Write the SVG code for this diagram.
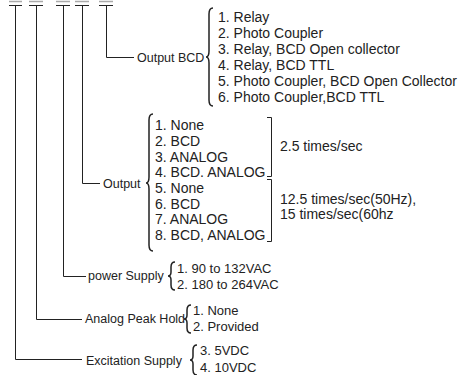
<svg xmlns="http://www.w3.org/2000/svg" width="469" height="375" viewBox="0 0 469 375">
<style>
text{font-family:"Liberation Sans",Arial,sans-serif;font-size:13px;fill:#222}
text.o{font-size:14px}
text.l{font-size:12.5px}
.ln{fill:none;stroke:#222;stroke-width:1}
.br{fill:none;stroke:#222;stroke-width:1.5}
.gb{stroke:#aaa;stroke-width:1.5}
</style>
<rect width="469" height="375" fill="#fff"/>
<g id="connectors">
<line class="gb" x1="9" y1="1.5" x2="22" y2="1.5"/>
<line class="gb" x1="29" y1="1.5" x2="43" y2="1.5"/>
<line class="gb" x1="56" y1="1.5" x2="70" y2="1.5"/>
<line class="gb" x1="75" y1="1.5" x2="89" y2="1.5"/>
<line class="gb" x1="99" y1="1.5" x2="113" y2="1.5"/>
<path class="ln" d="M9,5.5H22M15.5,5.5V359.5H82"/>
<path class="ln" d="M29,5.5H43M36.5,5.5V319.5H82"/>
<path class="ln" d="M56,5.5H70M63.5,5.5V276.5H86"/>
<path class="ln" d="M75,5.5H89M82.5,5.5V183.5H100"/>
<path class="ln" d="M99,5.5H113M106.5,5.5V57.5H134"/>
</g>
<g id="output-bcd">
<text class="l" x="137" y="62">Output BCD</text>
<path class="br" d="M213,8 Q209,8 209,14 L209,51 Q209,57 206,57 Q209,57 209,63 L209,100 Q209,106 213,106"/>
<text class="o" x="218" y="22">1. Relay</text>
<text class="o" x="218" y="38">2. Photo Coupler</text>
<text class="o" x="218" y="54">3. Relay, BCD Open collector</text>
<text class="o" x="218" y="70">4. Relay, BCD TTL</text>
<text class="o" x="218" y="86">5. Photo Coupler, BCD Open Collector</text>
<text class="o" x="218" y="102">6. Photo Coupler,BCD TTL</text>
</g>
<g id="output">
<text class="l" x="103" y="188">Output</text>
<path class="br" d="M153,114 Q149,114 149,120 L149,177 Q149,183 146,183 Q149,183 149,189 L149,245 Q149,251 153,251"/>
<text class="o" x="155" y="130">1. None</text>
<text class="o" x="155" y="146">2. BCD</text>
<text class="o" x="155" y="162">3. ANALOG</text>
<text class="o" x="155" y="177">4. BCD. ANALOG</text>
<text class="o" x="155" y="193">5. None</text>
<text class="o" x="155" y="209">6. BCD</text>
<text class="o" x="155" y="224">7. ANALOG</text>
<text class="o" x="155" y="240">8. BCD, ANALOG</text>
<path class="ln" d="M267,117.5H271.5V176.5H267"/>
<path class="ln" d="M267,179.5H271.5V241.5H267"/>
<text class="o" x="280" y="151">2.5 times/sec</text>
<text class="o" x="280" y="204">12.5 times/sec(50Hz),</text>
<text class="o" x="280" y="219">15 times/sec(60hz</text>
</g>
<g id="power-supply">
<text class="l" x="88" y="280">power Supply</text>
<path class="br" d="M175,262 Q171,262 171,267 L171,272 Q171,276 168,276 Q171,276 171,280 L171,285 Q171,290 175,290"/>
<text x="177" y="273">1. 90 to 132VAC</text>
<text x="177" y="289">2. 180 to 264VAC</text>
</g>
<g id="analog-peak-hold">
<text class="l" x="85" y="323">Analog Peak Hold</text>
<path class="br" d="M191,305 Q187,305 187,310 L187,315 Q187,319 184,319 Q187,319 187,323 L187,328 Q187,333 191,333"/>
<text x="193" y="315">1. None</text>
<text x="193" y="331">2. Provided</text>
</g>
<g id="excitation-supply">
<text class="l" x="86" y="365">Excitation Supply</text>
<path class="br" d="M197,345 Q193,345 193,350 L193,356 Q193,360 190,360 Q193,360 193,364 L193,370 Q193,375 197,375"/>
<text x="200" y="355">3. 5VDC</text>
<text x="200" y="372">4. 10VDC</text>
</g>
</svg>
